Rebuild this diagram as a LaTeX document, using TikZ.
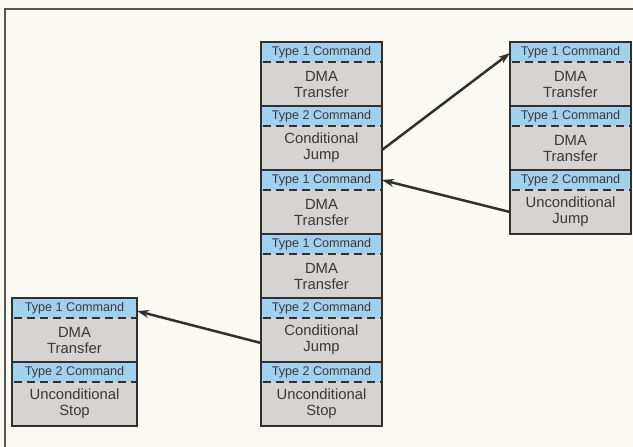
\documentclass[tikz,border=0pt]{standalone}
\usepackage{fontspec}
\setmainfont{Liberation Sans}
\usetikzlibrary{arrows.meta}
\definecolor{bg}{HTML}{FBFAF2}
\definecolor{hdrblue}{HTML}{A2D1EE}
\definecolor{bodygrey}{HTML}{D6D4D0}
\definecolor{ink}{HTML}{383838}
\definecolor{edge}{HTML}{303030}
\tikzset{
  hdr/.style={rectangle, fill=hdrblue, inner sep=0pt, outer sep=0pt, minimum height=20pt,
    text=ink, font=\fontsize{12.6}{14}\selectfont},
  bdy/.style={rectangle, fill=bodygrey, inner sep=0pt, outer sep=0pt, minimum height=44pt,
    align=center, text=ink, font=\fontsize{14.8}{16}\selectfont},
  segframe/.style={draw=edge, line width=1.7pt},
  dashline/.style={draw=edge, line width=1.6pt, dash pattern=on 8pt off 5pt, dash phase=-2pt},
  conn/.style={draw=edge, line width=2.5pt, -{Stealth[length=12pt,width=8pt]}},
  outerframe/.style={draw=ink!85, line width=1.7pt}
}
\newcommand\mysegment[6]{%
  \node[hdr, minimum width=#4, anchor=north west] (#1h) at (#2,#3) {#5};
  \node[bdy, minimum width=#4, anchor=north] (#1b) at (#1h.south) {#6};
  \draw[segframe] (#1h.north west) rectangle (#1b.south east);
  \draw[dashline] (#1h.south west) -- (#1h.south east);
}
\begin{document}
\begin{tikzpicture}[x=1pt,y=-1pt]
\useasboundingbox[fill=bg] (0,0) rectangle (633,447);
\coordinate (ftl) at (5,9);
\coordinate (ftr) at (633,9);
\coordinate (fbl) at (5,447);
\draw[outerframe] (fbl) -- (ftl) -- (ftr);
% central column
\mysegment{ca}{261}{42}{121pt}{Type 1 Command}{DMA\\Transfer}
\mysegment{cb}{261}{106}{121pt}{Type 2 Command}{Conditional\\Jump}
\mysegment{cc}{261}{170}{121pt}{Type 1 Command}{DMA\\Transfer}
\mysegment{cd}{261}{234}{121pt}{Type 1 Command}{DMA\\Transfer}
\mysegment{ce}{261}{298}{121pt}{Type 2 Command}{Conditional\\Jump}
\mysegment{cf}{261}{362}{121pt}{Type 2 Command}{Unconditional\\Stop}
% right column
\mysegment{ra}{510}{42}{121pt}{Type 1 Command}{DMA\\Transfer}
\mysegment{rb}{510}{106}{121pt}{Type 1 Command}{DMA\\Transfer}
\mysegment{rc}{510}{170}{121pt}{Type 2 Command}{Unconditional\\Jump}
% left column
\mysegment{la}{12}{298}{125pt}{Type 1 Command}{DMA\\Transfer}
\mysegment{lb}{12}{362}{125pt}{Type 2 Command}{Unconditional\\Stop}
% connectors
\draw[conn] ([yshift=-2pt]cbb.east) -- ([yshift=-1pt]rah.west);
\draw[conn] (rcb.west) -- (cch.east);
\draw[conn] ([yshift=-3pt]ceb.west) -- ([yshift=-3pt]lah.east);
\end{tikzpicture}
\end{document}
